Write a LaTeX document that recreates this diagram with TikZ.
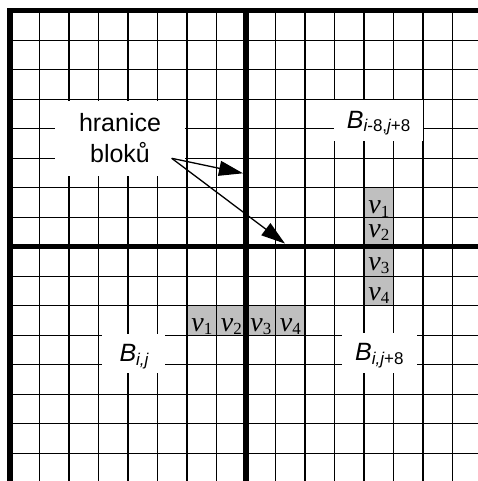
\documentclass[tikz,border=0pt]{standalone}
\usepackage{fontspec}
\setmainfont{Liberation Serif}
\newfontfamily\timesf{Liberation Serif}
\newfontfamily\arial{Liberation Sans}
\usetikzlibrary{arrows.meta}
\tikzset{
  gridline/.style={line width=1.1pt, black},
  blockline/.style={line width=5.5pt, black, line cap=rect},
  vcell/.style={fill=gray!50, draw=none, minimum width=29.5pt, minimum height=29.5pt, inner sep=0pt, anchor=north west},
  whitebox/.style={fill=white, draw=none, inner sep=0pt},
  blabel/.style={anchor=base west, inner sep=0pt, font=\arial\fontsize{25}{30}\selectfont\itshape},
  vlabel/.style={anchor=base, inner sep=0pt, font=\timesf\fontsize{28}{30}\selectfont\itshape},
  pointer/.style={line width=1.3pt, -{Triangle[length=24pt,width=15pt]}}
}
\newcommand{\vsub}[1]{v\raisebox{-3.3pt}{\upshape\fontsize{17}{18}\selectfont #1}}
\newcommand{\bsub}[1]{\raisebox{-3.5pt}{\fontsize{17}{19}\selectfont #1}}
\begin{document}
\begin{tikzpicture}[x=1pt,y=-1pt]
\useasboundingbox (0,0) rectangle (478,481);
\def\cs{29.5}
\def\ox{10}
\def\oy{10.6}
% shaded cells
\node[vcell] (h1) at ({\ox+6*\cs},{\oy+10*\cs}) {};
\node[vcell] (h2) at ({\ox+7*\cs},{\oy+10*\cs}) {};
\node[vcell] (h3) at ({\ox+8*\cs},{\oy+10*\cs}) {};
\node[vcell] (h4) at ({\ox+9*\cs},{\oy+10*\cs}) {};
\node[vcell] (w1) at ({\ox+12*\cs},{\oy+6*\cs}) {};
\node[vcell] (w2) at ({\ox+12*\cs},{\oy+7*\cs}) {};
\node[vcell] (w3) at ({\ox+12*\cs},{\oy+8*\cs}) {};
\node[vcell] (w4) at ({\ox+12*\cs},{\oy+9*\cs}) {};
% thin grid
\foreach \k in {1,...,7,9,10,...,15} {
  \draw[gridline] ({\ox+\k*\cs},\oy) -- ({\ox+\k*\cs},481);
  \draw[gridline] (\ox,{\oy+\k*\cs}) -- (478,{\oy+\k*\cs});
}
% block boundaries
\draw[blockline, line join=miter] (\ox,481) -- (\ox,\oy) -- (478,\oy);
\draw[blockline] ({\ox+8*\cs},\oy) -- ({\ox+8*\cs},481);
\draw[blockline] (\ox,{\oy+8*\cs}) -- (478,{\oy+8*\cs});
% v labels
\foreach \n/\i/\d in {h1/1/4,h2/2/4,h3/3/4,h4/4/4,w1/1/3.7,w2/2/10,w3/3/6,w4/4/5.6} {
  \node[vlabel] (t\n) at ([yshift=\d pt]\n.south) {\vsub{\i}};
}
% label boxes
\node[whitebox, minimum width=130pt, minimum height=75pt, align=center,
      font=\arial\fontsize{25}{31}\selectfont] (hr) at (120,138.5) {hranice\\bloků};
\node[whitebox, minimum width=89pt, minimum height=40.5pt] (bA) at (378.5,120.75) {};
\node[blabel] (bAt) at (346.7,128.3) {B\bsub{i\upshape -8,\itshape j\upshape +8}};
\node[whitebox, minimum width=63.3pt, minimum height=39pt] (bB) at (133.35,353.5) {};
\node[blabel] (bBt) at (119.3,361.7) {B\bsub{i,j}};
\node[whitebox, minimum width=75pt, minimum height=40pt] (bC) at (379.2,353) {};
\node[blabel] (bCt) at (355,360.7) {B\bsub{i,j\upshape +8}};
% pointers
\coordinate (src) at (171.7,158.3);
\coordinate (tipA) at (243,173.3);
\coordinate (tipB) at (285,243.6);
\draw[pointer] (src) -- (tipA);
\draw[pointer] (src) -- (tipB);
\end{tikzpicture}
\end{document}
